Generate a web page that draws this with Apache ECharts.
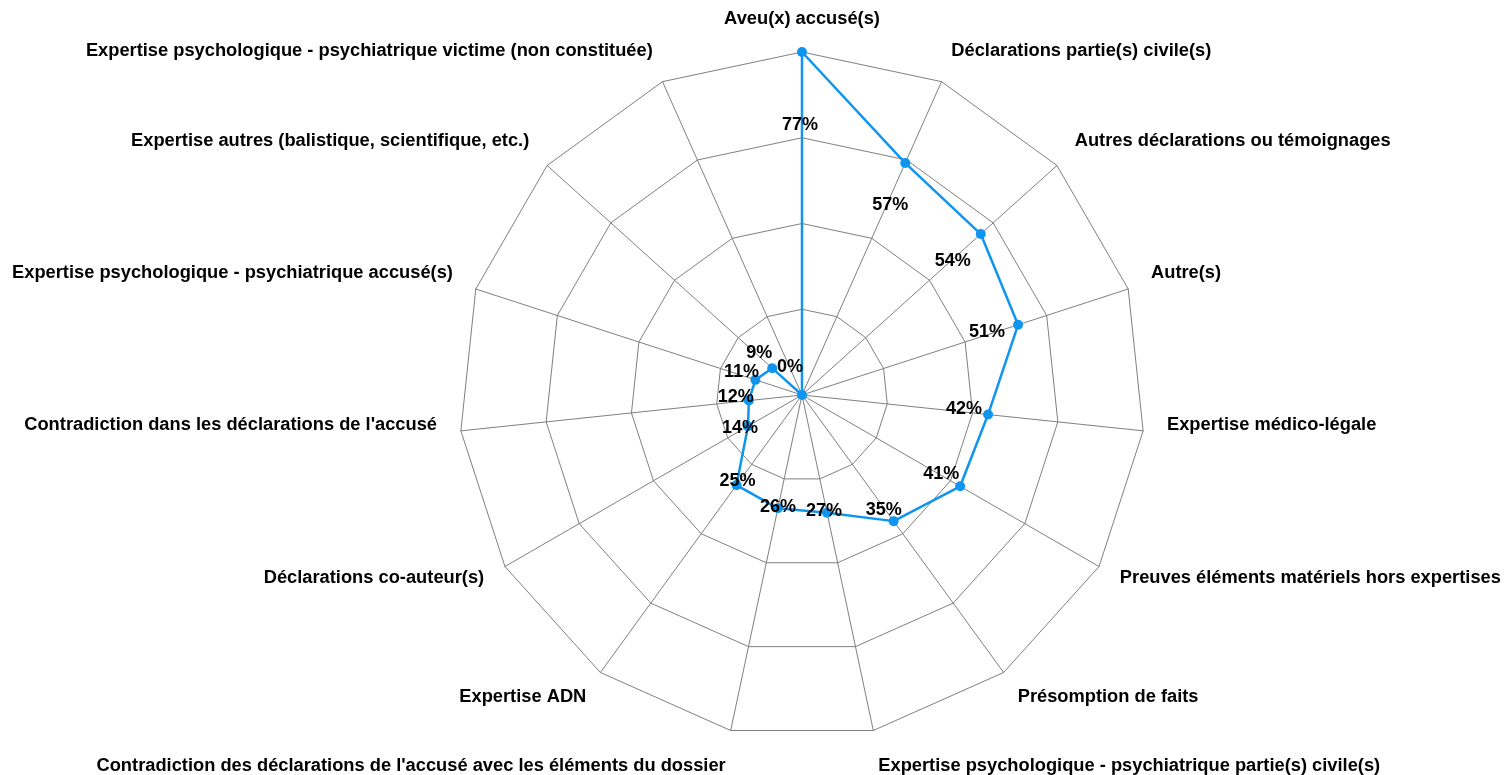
<!DOCTYPE html>
<html>
<head>
<meta charset="utf-8">
<script src="https://cdn.jsdelivr.net/npm/echarts@6/dist/echarts.min.js"></script>
<style>
  html, body { margin: 0; padding: 0; background: #ffffff; }
  #chart { width: 1504px; height: 775px; }
</style>
</head>
<body>
<div id="chart"></div>
<script>
// Evidence types, listed clockwise starting at the top
const categories = [
  "Aveu(x) accusé(s)",
  "Déclarations partie(s) civile(s)",
  "Autres déclarations ou témoignages",
  "Autre(s)",
  "Expertise médico-légale",
  "Preuves éléments matériels hors expertises",
  "Présomption de faits",
  "Expertise psychologique - psychiatrique partie(s) civile(s)",
  "Contradiction des déclarations de l'accusé avec les éléments du dossier",
  "Expertise ADN",
  "Déclarations co-auteur(s)",
  "Contradiction dans les déclarations de l'accusé",
  "Expertise psychologique - psychiatrique accusé(s)",
  "Expertise autres (balistique, scientifique, etc.)",
  "Expertise psychologique - psychiatrique victime (non constituée)"
];

// Share of cases (%) per evidence type, same order
const percentages = [77, 57, 54, 51, 42, 41, 35, 27, 26, 25, 14, 12, 11, 9, 0];

// Outer ring value
const valueMax = 77;

// Pixel nudges of each percentage label away from its point, same order
const labelOffsets = [
  [-2, 73], [-15, 42], [-28, 27], [-31, 7], [-24, -6], [-19, -12], [-10, -11],
  [-3, -2], [0, -1], [1, -4], [-8, 2], [-13, -4], [-14, -8], [-13, -15], [-12, -28]
];

// Vertical nudges (px, + is down) of each axis name, same order
const nameShiftY = [0, -9, -8, -9, -8, -1, 5, 12, 12, 5, -1, -8, -9, -8, -9];

const FONT = "'Liberation Sans', Arial, sans-serif";
const FONT_SIZE = 18.3;
const BLUE = '#0f95f0';
const GRID = '#808080';

// ECharts places radar axes counter-clockwise, so keep the first one on top
// and reverse the rest to read clockwise.
const order = [0].concat(categories.map((_, i) => i).slice(1).reverse());
const indicator = order.map(i => ({ name: categories[i], min: 0, max: valueMax }));
const values = order.map(i => percentages[i]);

// One rich style per axis name, using padding to move it up or down
const nameRich = {};
nameShiftY.forEach((dy, i) => {
  nameRich['n' + i] = {
    color: '#000', fontSize: FONT_SIZE, fontWeight: 'bold', fontFamily: FONT,
    padding: dy >= 0 ? [2 * dy, 0, 0, 0] : [0, 0, -2 * dy, 0]
  };
});

// One invisible copy of the polygon per label, so every label gets its own offset
const labelItems = order.map(src => ({
  value: values,
  symbol: 'circle',
  symbolSize: 1,
  itemStyle: { color: 'transparent' },
  lineStyle: { width: 0, opacity: 0 },
  label: { show: true, position: 'inside', offset: labelOffsets[src] }
}));

const chart = echarts.init(document.getElementById('chart'), null, { renderer: 'canvas' });
chart.setOption({
  animation: false,
  backgroundColor: '#ffffff',
  radar: {
    center: [802, 395],
    radius: 343,
    startAngle: 90,
    shape: 'polygon',
    splitNumber: 4,
    nameGap: 24,
    axisName: {
      color: '#000', fontSize: FONT_SIZE, fontWeight: 'bold', fontFamily: FONT,
      formatter: function (name) {
        return '{n' + categories.indexOf(name) + '|' + name + '}';
      },
      rich: nameRich
    },
    axisLine: { lineStyle: { color: GRID, width: 1 } },
    splitLine: { lineStyle: { color: GRID, width: 1 } },
    splitArea: { show: false },
    indicator: indicator
  },
  series: [{
    type: 'radar',
    silent: true,
    label: {
      color: '#000',
      fontSize: 18,
      fontWeight: 'bold',
      fontFamily: FONT,
      formatter: function (p) {
        if (p.dataIndex === 0) return '';
        const k = p.dataIndex - 1;
        const hit = (typeof p.dimensionIndex === 'number')
          ? p.dimensionIndex === k
          : p.value === values[k];
        return hit ? p.value + '%' : '';
      }
    },
    data: [{
      value: values,
      symbol: 'circle',
      symbolSize: 10,
      itemStyle: { color: BLUE },
      lineStyle: { color: BLUE, width: 2.5 },
      label: { show: false }
    }].concat(labelItems)
  }]
});
</script>
</body>
</html>
